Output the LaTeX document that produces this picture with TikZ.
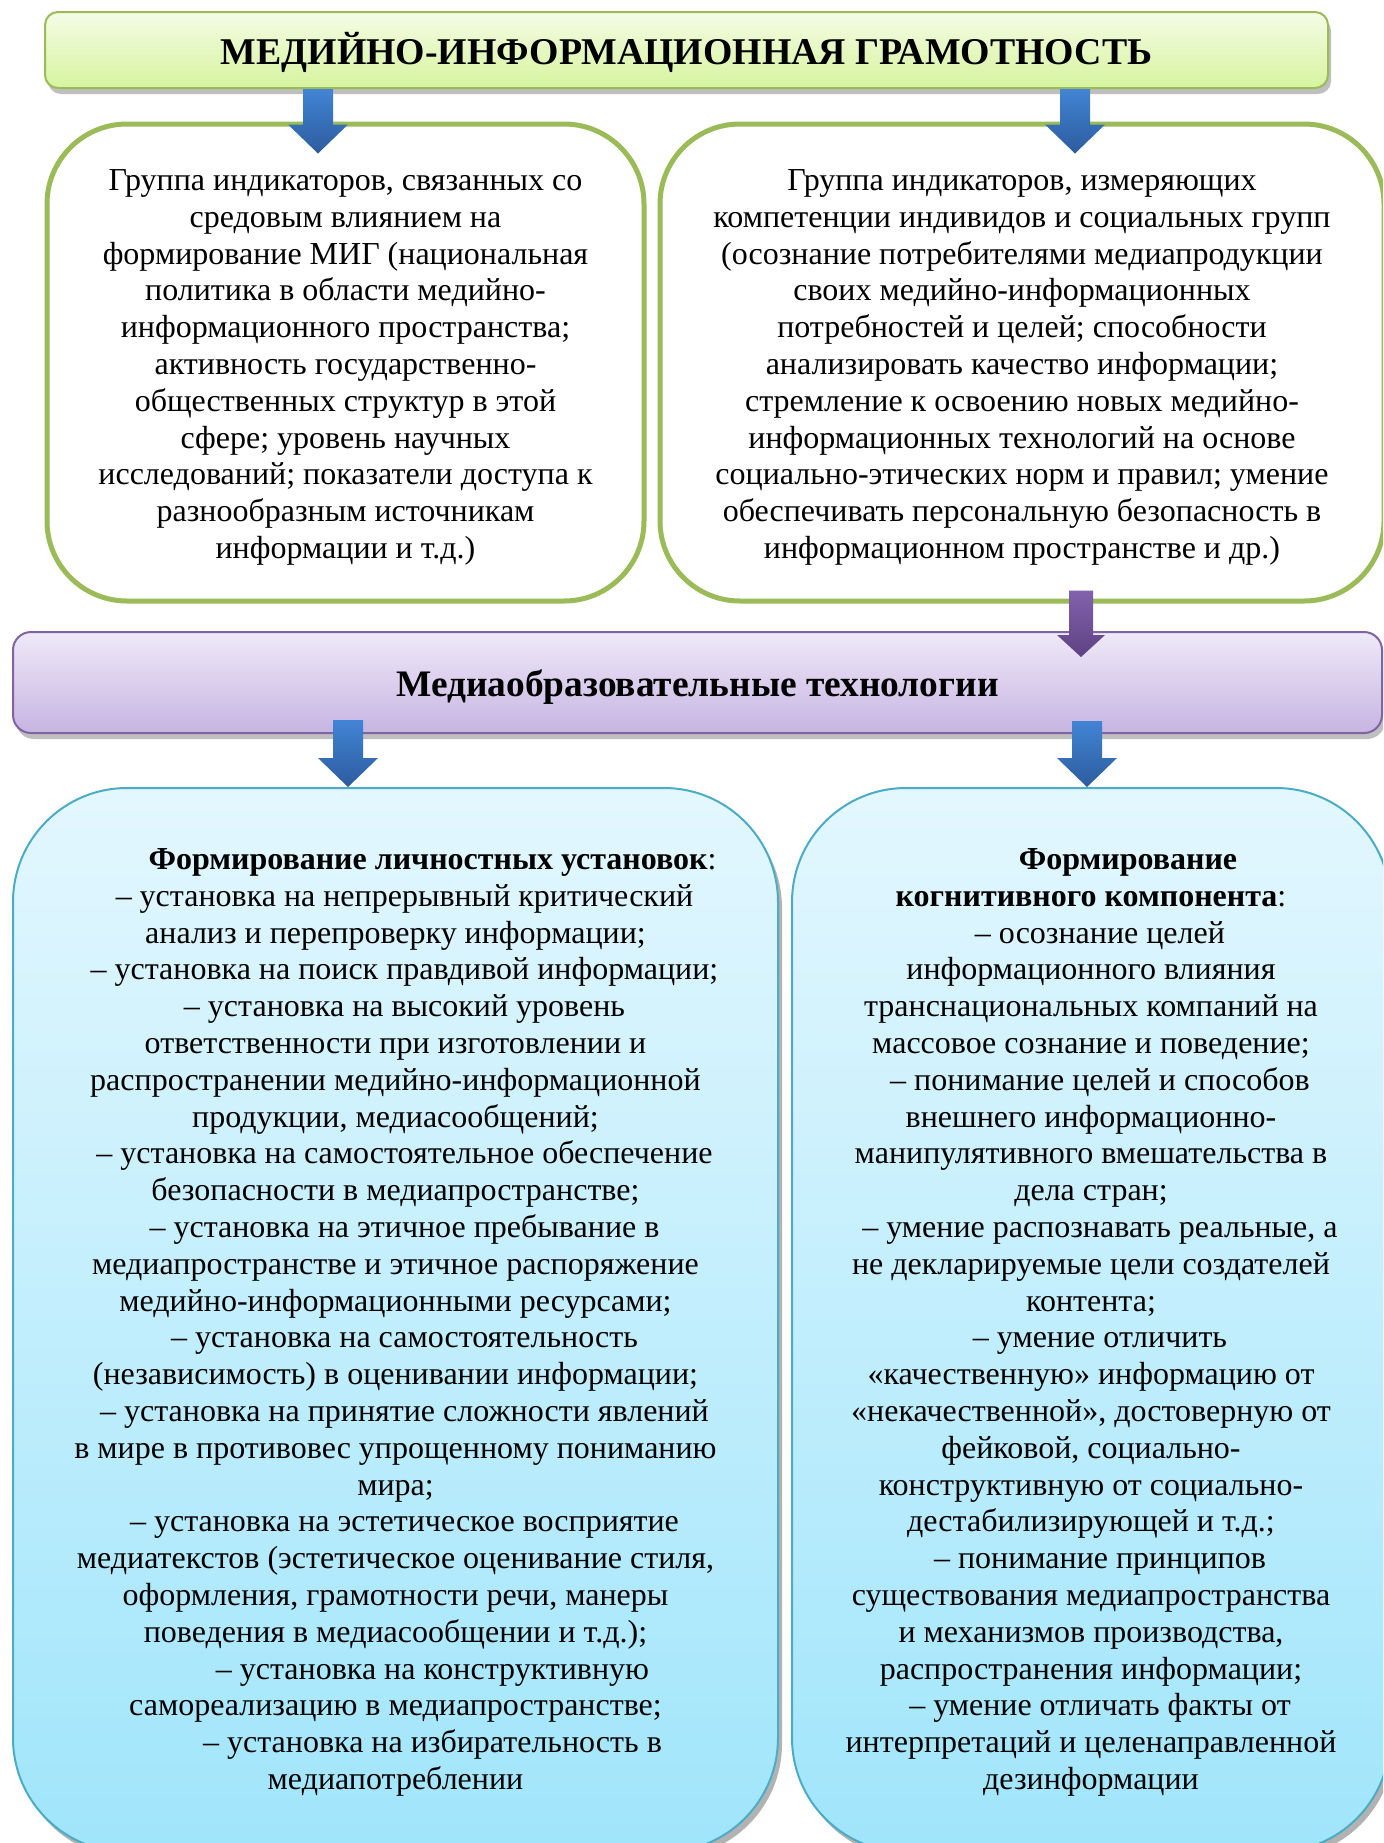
\documentclass[tikz,border=0pt]{standalone}
\usepackage{fontspec}
\setmainfont{Liberation Serif}
\usetikzlibrary{calc,shadows}

\definecolor{greenline}{RGB}{155,187,89}
\definecolor{greentop}{RGB}{245,252,230}
\definecolor{greenbot}{RGB}{214,244,158}
\definecolor{violetline}{RGB}{128,100,162}
\definecolor{violettop}{RGB}{239,233,248}
\definecolor{violetbot}{RGB}{199,180,226}
\definecolor{cyanline}{RGB}{75,172,198}
\definecolor{cyantop}{RGB}{227,247,254}
\definecolor{cyanbot}{RGB}{160,229,251}
\definecolor{arrowtop}{RGB}{66,132,212}
\definecolor{arrowbot}{RGB}{44,92,158}
\definecolor{varrowtop}{RGB}{130,98,172}
\definecolor{varrowbot}{RGB}{94,66,132}

\newcommand{\itm}{\hspace*{9pt}– }

\begin{document}
\begin{tikzpicture}[x=0.5pt, y=-0.5pt,
  every node/.style={font=\fontsize{16}{18.4}\selectfont, align=center, inner sep=0pt},
  headbox/.style={rectangle, rounded corners=6.5pt, draw=greenline, line width=1pt,
    top color=greentop, bottom color=greenbot,
    drop shadow={shadow xshift=1.5pt, shadow yshift=-3pt, fill=black, opacity=0.25}},
  groupbox/.style={rectangle, rounded corners=40pt, draw=greenline, line width=2.5pt, fill=white},
  techbox/.style={rectangle, rounded corners=9pt, draw=violetline, line width=1pt,
    top color=violettop, bottom color=violetbot,
    drop shadow={shadow xshift=1.5pt, shadow yshift=-3pt, fill=black, opacity=0.25}},
  formbox/.style={rectangle, rounded corners=57pt, draw=cyanline, line width=1pt,
    top color=cyantop, bottom color=cyanbot,
    drop shadow={shadow xshift=2pt, shadow yshift=-3pt, fill=black, opacity=0.3}},
  blockarrow/.style n args={3}{to path={let \p1=(\tikztostart), \p2=(\tikztotarget) in
    (\x1-#1,\y1) -- (\x1-#1,\y2+#3) -- (\x1-#2,\y2+#3) -- (\x1,\y2)
    -- (\x1+#2,\y2+#3) -- (\x1+#1,\y2+#3) -- (\x1+#1,\y1) -- cycle}},
  bluearrow/.style={blockarrow={7.5pt}{15pt}{14.5pt}, top color=arrowtop, bottom color=arrowbot},
  violetarrow/.style={blockarrow={6pt}{12pt}{11pt}, top color=varrowtop, bottom color=varrowbot}
  ]
  \useasboundingbox (0,0) rectangle (1383,1843);
  \clip (0,0) rectangle (1383,1843);
  \fill[white] (0,0) rectangle (1383,1843);

  % boxes
  \node[headbox, minimum width=641.5pt, minimum height=38pt] (title) at (686.5,50) {};
  \node[groupbox, minimum width=298.5pt, minimum height=238.5pt] (gl) at (345.5,362.5) {};
  \node[groupbox, minimum width=362pt, minimum height=238.5pt] (gr) at (1022,362.5) {};
  \node[techbox, minimum width=684.5pt, minimum height=50.5pt] (tech) at (697.5,682.5) {};
  \node[formbox, minimum width=382.5pt, minimum height=532pt] (cl) at (395.5,1320) {};
  \node[formbox, minimum width=299pt, minimum height=532pt] (cr) at (1091,1320) {};

  % texts
  \node[font=\fontsize{18.9}{22}\selectfont\bfseries] (titletext) at ($(title.center)+(0,2)$)
    {МЕДИЙНО-ИНФОРМАЦИОННАЯ ГРАМОТНОСТЬ};
  \node (gltext) at ($(gl.center)+(0,5)$)
    {Группа индикаторов, связанных со\\
     средовым влиянием на\\
     формирование МИГ (национальная\\
     политика в области медийно-\\
     информационного пространства;\\
     активность государственно-\\
     общественных структур в этой\\
     сфере; уровень научных\\
     исследований; показатели доступа к\\
     разнообразным источникам\\
     информации и т.д.)};
  \node (grtext) at ($(gr.center)+(0,5)$)
    {Группа индикаторов, измеряющих\\
     компетенции индивидов и социальных групп\\
     (осознание потребителями медиапродукции\\
     своих медийно-информационных\\
     потребностей и целей; способности\\
     анализировать качество информации;\\
     стремление к освоению новых медийно-\\
     информационных технологий на основе\\
     социально-этических норм и правил; умение\\
     обеспечивать персональную безопасность в\\
     информационном пространстве и др.)};
  \node[font=\fontsize{18.7}{21}\selectfont\bfseries] (techtext) at ($(tech.center)+(0,5)$)
    {Медиаобразовательные технологии};
  \node (cltext) at ($(cl.center)+(0,2.5)$)
    {\hspace*{37pt}\textbf{Формирование личностных установок}:\\
     \itm установка на непрерывный критический\\
     анализ и перепроверку информации;\\
     \itm установка на поиск правдивой информации;\\
     \itm установка на высокий уровень\\
     ответственности при изготовлении и\\
     распространении медийно-информационной\\
     продукции, медиасообщений;\\
     \itm установка на самостоятельное обеспечение\\
     безопасности в медиапространстве;\\
     \itm установка на этичное пребывание в\\
     медиапространстве и этичное распоряжение\\
     медийно-информационными ресурсами;\\
     \itm установка на самостоятельность\\
     (независимость) в оценивании информации;\\
     \itm установка на принятие сложности явлений\\
     в мире в противовес упрощенному пониманию\\
     мира;\\
     \itm установка на эстетическое восприятие\\
     медиатекстов (эстетическое оценивание стиля,\\
     оформления, грамотности речи, манеры\\
     поведения в медиасообщении и т.д.);\\
     \hspace*{37pt}– установка на конструктивную\\
     самореализацию в медиапространстве;\\
     \hspace*{37pt}– установка на избирательность в\\
     медиапотреблении};
  \node (crtext) at ($(cr.center)+(0,2.5)$)
    {\hspace*{37pt}\textbf{Формирование}\\
     \textbf{когнитивного компонента}:\\
     \itm осознание целей\\
     информационного влияния\\
     транснациональных компаний на\\
     массовое сознание и поведение;\\
     \itm понимание целей и способов\\
     внешнего информационно-\\
     манипулятивного вмешательства в\\
     дела стран;\\
     \itm умение распознавать реальные, а\\
     не декларируемые цели создателей\\
     контента;\\
     \itm умение отличить\\
     «качественную» информацию от\\
     «некачественной», достоверную от\\
     фейковой, социально-\\
     конструктивную от социально-\\
     дестабилизирующей и т.д.;\\
     \itm понимание принципов\\
     существования медиапространства\\
     и механизмов производства,\\
     распространения информации;\\
     \itm умение отличать факты от\\
     интерпретаций и целенаправленной\\
     дезинформации};

  % arrows between the boxes
  \coordinate (a1) at (318,0);
  \coordinate (a2) at (1075,0);
  \coordinate (a3) at (1081,0);
  \coordinate (a4) at (348,0);
  \coordinate (a5) at (1087,0);
  \path[bluearrow] (title.south -| a1) to ($(gl.north -| a1)+(0,32)$);
  \path[bluearrow] (title.south -| a2) to ($(gr.north -| a2)+(0,32)$);
  \path[violetarrow] ($(gr.south -| a3)+(0,-13)$) to ($(tech.north -| a3)+(0,26)$);
  \path[bluearrow] ($(tech.south -| a4)+(0,-14)$) to (cl.north -| a4);
  \path[bluearrow] ($(tech.south -| a5)+(0,-13)$) to (cr.north -| a5);
\end{tikzpicture}
\end{document}
